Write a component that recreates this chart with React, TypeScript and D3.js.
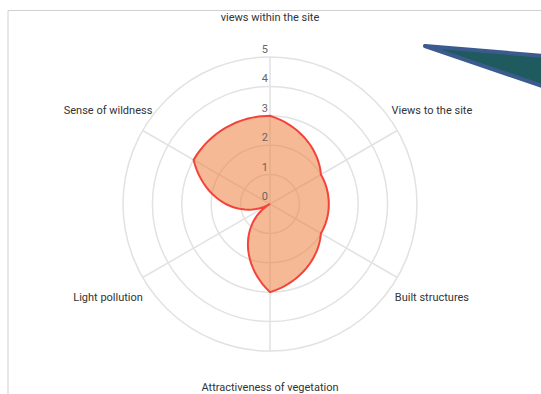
import React from "react";
import * as d3 from "d3";

// Radar axes, clockwise from the top
const axes = [
  "views within the site",
  "Views to the site",
  "Built structures",
  "Attractiveness of vegetation",
  "Light pollution",
  "Sense of wildness",
];
const scores = [3, 2, 2, 3, 0, 3];
const ticks = [0, 1, 2, 3, 4, 5];

const W = 541;
const H = 394;
const cx = 270;
const cy = 204;
const R = 147;

export default function App() {
  const r = d3.scaleLinear().domain([0, 5]).range([0, R]);
  const angle = d3
    .scaleLinear()
    .domain([0, axes.length])
    .range([0, 2 * Math.PI]);

  // Points are joined by interpolating in polar space (angle and radius),
  // so segments sweep around the centre instead of cutting straight across.
  const steps = 24;
  const pts: [number, number][] = [];
  scores.forEach((v, i) => {
    const next = scores[(i + 1) % scores.length];
    for (let s = 0; s < steps; s++) {
      const t = s / steps;
      pts.push([angle(i + t), r(v + (next - v) * t)]);
    }
  });
  const line = d3.lineRadial().curve(d3.curveLinearClosed);
  const shape = line(pts) || "";

  const pos = (i: number, rad: number) => {
    const a = angle(i) - Math.PI / 2;
    return [cx + rad * Math.cos(a), cy + rad * Math.sin(a)];
  };

  return (
    <svg
      width={W}
      height={H}
      style={{ position: "absolute", left: 0, top: 0 }}
      fontFamily="Roboto, sans-serif"
    >
      <rect x={0} y={0} width={W} height={H} fill="#fff" />
      <path d={`M8,${H} V10.5 H${W}`} fill="none" stroke="#d0d0d0" strokeWidth={1} />

      <g>
        {ticks.slice(1).map((t) => (
          <circle key={t} cx={cx} cy={cy} r={r(t)} fill="none" stroke="#e2e2e2" strokeWidth={1.5} />
        ))}
        {axes.map((_, i) => {
          const [x, y] = pos(i, R);
          return <line key={i} x1={cx} y1={cy} x2={x} y2={y} stroke="#e2e2e2" strokeWidth={1.5} />;
        })}
      </g>

      <path
        d={shape}
        transform={`translate(${cx},${cy})`}
        fill="rgb(236,128,64)"
        fillOpacity={0.55}
        stroke="#f4433a"
        strokeWidth={2}
        strokeLinejoin="miter"
      />

      {ticks.map((t) => (
        <text key={t} x={268} y={cy - r(t) - 4} textAnchor="end" fontSize={11} fill="#666">
          {t}
        </text>
      ))}

      {axes.map((name, i) => {
        const [x, y] = pos(i, R + 40);
        return (
          <text
            key={name}
            x={x}
            y={Math.min(y, H - 7)}
            dy="0.35em"
            textAnchor="middle"
            fontSize={11}
            fill="#333"
          >
            {name}
          </text>
        );
      })}

      <polygon
        points={`425,46 ${W + 4},56 ${W + 4},87`}
        fill="#1f5a5e"
        stroke="#3b5b8e"
        strokeWidth={4}
        strokeLinejoin="round"
      />
    </svg>
  );
}
